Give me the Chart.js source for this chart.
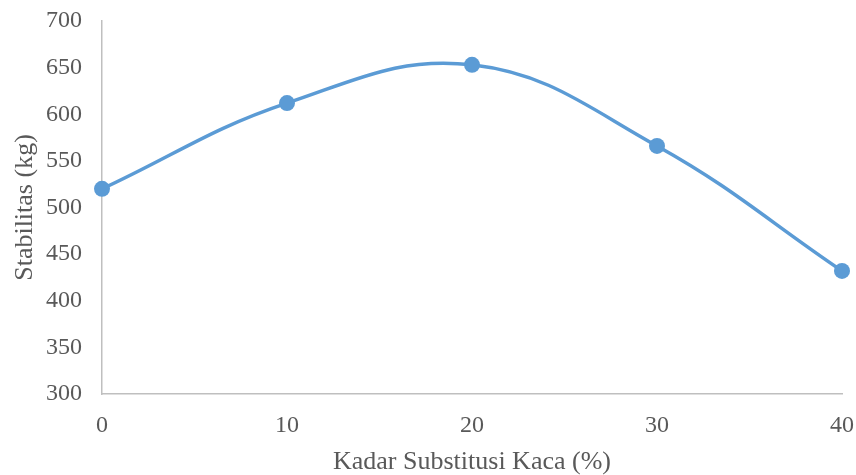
<!DOCTYPE html>
<html>
<head>
<meta charset="utf-8">
<script src="https://cdn.jsdelivr.net/npm/chart.js@4.4.0/dist/chart.umd.min.js"></script>
<style>
  html, body { margin: 0; padding: 0; background: #fff; }
</style>
</head>
<body>
<canvas id="stabilitasChart" width="856" height="475"></canvas>
<script>
// data
const kadarKaca = [0, 10, 20, 30, 40];           // % substitution
const stabilitas = [520, 612, 653, 566, 432];    // kg

const font = 'Liberation Serif, Times New Roman, serif';
const textColor = '#595959';
const axisColor = '#bfbfbf';

const ctx = document.getElementById('stabilitasChart').getContext('2d');
new Chart(ctx, {
  type: 'line',
  data: {
    datasets: [{
      label: 'Stabilitas',
      data: kadarKaca.map((x, i) => ({ x: x, y: stabilitas[i] })),
      borderColor: '#5b9bd5',
      backgroundColor: '#5b9bd5',
      borderWidth: 3.5,
      tension: 0.4,
      pointRadius: 8,
      pointBorderWidth: 0,
      fill: false,
      clip: false // keep the end markers whole
    }]
  },
  options: {
    responsive: false,
    animation: false,
    layout: { padding: { top: 21, right: 14, left: 0, bottom: 0 } },
    plugins: {
      legend: { display: false },
      tooltip: { enabled: false }
    },
    scales: {
      x: {
        type: 'linear',
        min: 0,
        max: 40,
        grid: { display: false, drawTicks: false },
        border: { color: axisColor, width: 1.5 },
        ticks: { stepSize: 10, color: textColor, font: { family: font, size: 24 }, padding: 17 },
        title: { display: true, text: 'Kadar Substitusi Kaca (%)', color: textColor, font: { family: font, size: 26, lineHeight: 1 }, padding: 0 },
        afterFit: s => { s.height = 81; s.paddingLeft = 0; s.paddingRight = 0; }
      },
      y: {
        min: 300,
        max: 700,
        grid: { display: false, drawTicks: false },
        border: { color: axisColor, width: 1.5 },
        ticks: { stepSize: 50, color: textColor, font: { family: font, size: 24 }, padding: 20 },
        title: { display: true, text: 'Stabilitas (kg)', color: textColor, font: { family: font, size: 26 }, padding: { top: 10, bottom: 0 } },
        afterFit: s => { s.width = 102; s.paddingTop = 0; s.paddingBottom = 0; }
      }
    }
  }
});
</script>
</body>
</html>
